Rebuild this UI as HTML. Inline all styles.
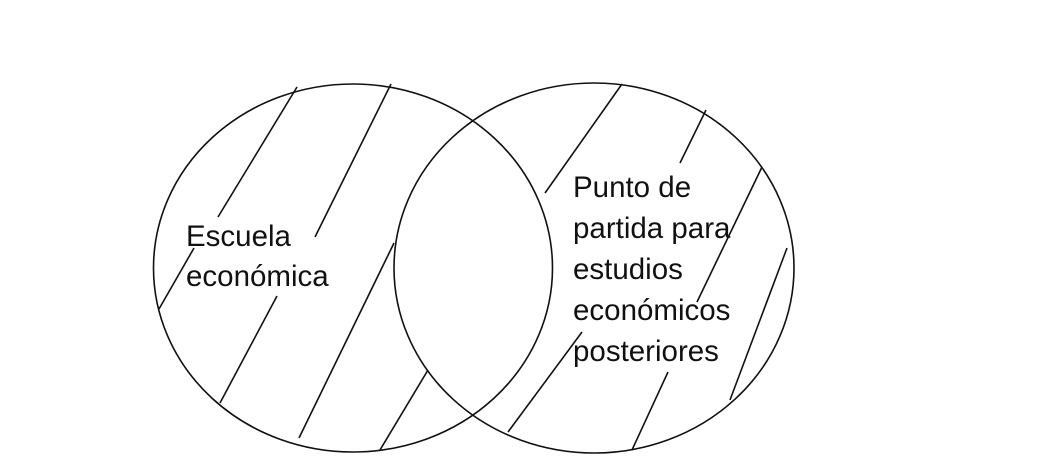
<!DOCTYPE html>
<html><head><meta charset="utf-8"><style>
html,body{margin:0;padding:0;background:#fff;}
svg{display:block;}
text{font-family:"Liberation Sans",Arial,sans-serif;font-size:29.5px;fill:#111;}
</style></head><body>
<svg width="1063" height="456" viewBox="0 0 1063 456">
<rect width="1063" height="456" fill="#fff"/>
<g fill="none" stroke="#111" stroke-width="1.6">
<ellipse cx="353" cy="268" rx="199.5" ry="184"/>
<ellipse cx="594" cy="268" rx="200" ry="185"/>
<line x1="297" y1="87" x2="218" y2="217"/>
<line x1="391" y1="84" x2="315" y2="237"/>
<line x1="194" y1="248" x2="159" y2="309"/>
<line x1="277" y1="296" x2="220" y2="403"/>
<line x1="394" y1="243" x2="299" y2="438"/>
<line x1="428" y1="370" x2="380" y2="450"/>
<line x1="622" y1="84" x2="545" y2="193"/>
<line x1="706" y1="110" x2="680" y2="163"/>
<line x1="762" y1="167" x2="697" y2="302"/>
<line x1="787" y1="248" x2="730" y2="400"/>
<line x1="582" y1="332" x2="508" y2="432"/>
<line x1="668" y1="372" x2="632" y2="450"/>
</g>
<text x="186" y="246">Escuela</text>
<text x="186" y="286">económica</text>
<text x="573" y="197">Punto de</text>
<text x="573" y="238">partida para</text>
<text x="573" y="279">estudios</text>
<text x="573" y="320">económicos</text>
<text x="573" y="361">posteriores</text>
</svg>
</body></html>
